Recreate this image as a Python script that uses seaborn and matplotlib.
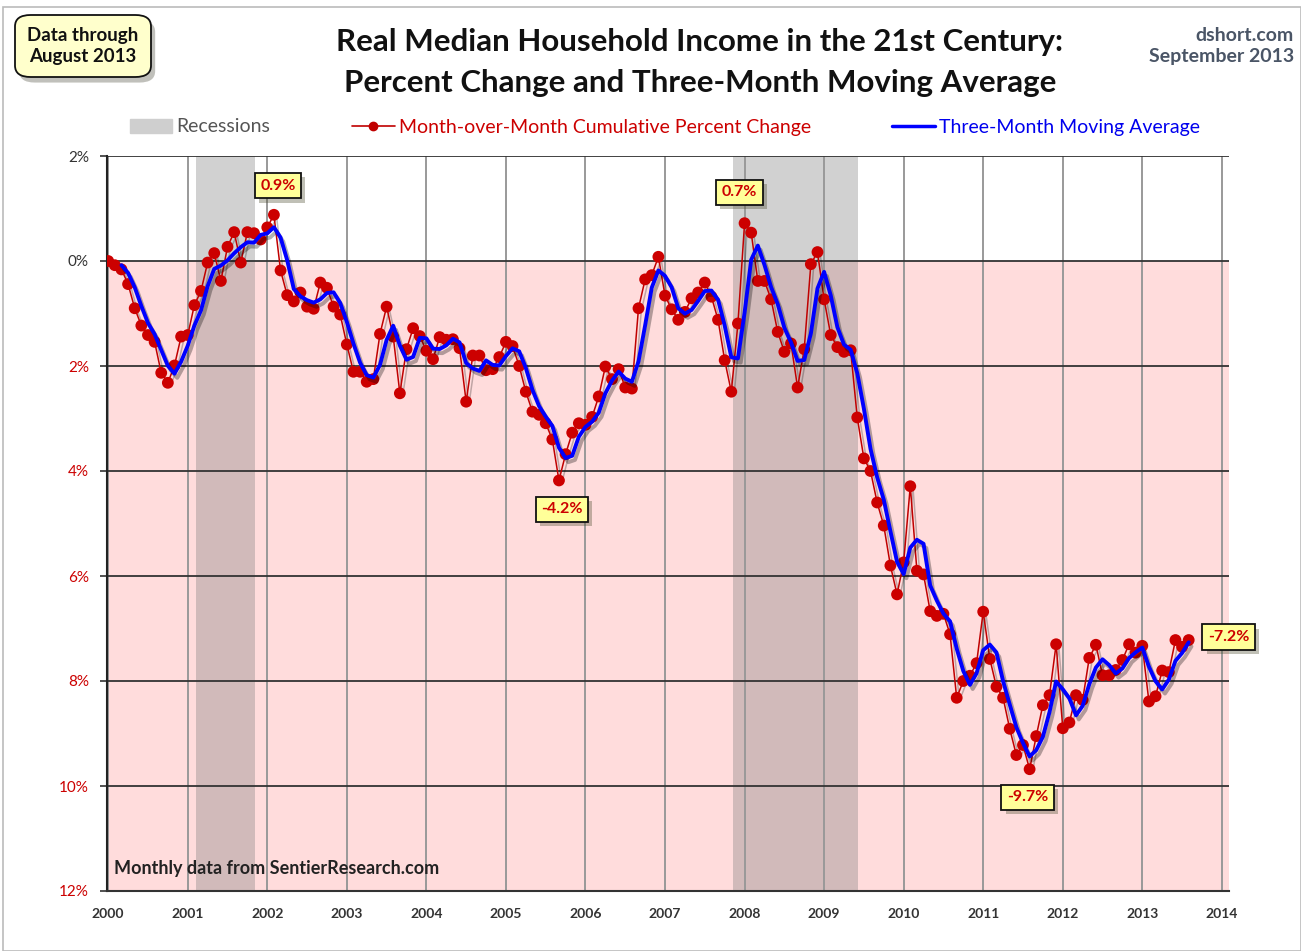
import numpy as np
import pandas as pd
import matplotlib
matplotlib.use("Agg")
import matplotlib.pyplot as plt
import matplotlib.patheffects as pe
from matplotlib.lines import Line2D
from matplotlib.patches import Patch, FancyBboxPatch, Rectangle
import seaborn as sns

# monthly cumulative percent change, Jan 2000 .. Aug 2013
pct_2000 = [0.00, -0.08, -0.16, -0.44, -0.90, -1.23, -1.41, -1.54, -2.13, -2.32, -1.99, -1.44]
pct_2001 = [-1.41, -0.84, -0.57, -0.03, 0.15, -0.38, 0.27, 0.55, -0.03, 0.55, 0.53, 0.41]
pct_2002 = [0.64, 0.88, -0.18, -0.65, -0.77, -0.60, -0.87, -0.91, -0.41, -0.51, -0.87, -1.02]
pct_2003 = [-1.59, -2.11, -2.11, -2.30, -2.25, -1.39, -0.87, -1.44, -2.52, -1.68, -1.28, -1.43]
pct_2004 = [-1.71, -1.87, -1.45, -1.50, -1.49, -1.66, -2.68, -1.80, -1.80, -2.08, -2.06, -1.83]
pct_2005 = [-1.54, -1.62, -2.00, -2.49, -2.87, -2.93, -3.09, -3.40, -4.18, -3.68, -3.27, -3.09]
pct_2006 = [-3.12, -2.97, -2.58, -2.01, -2.25, -2.06, -2.41, -2.43, -0.90, -0.35, -0.27, 0.08]
pct_2007 = [-0.66, -0.92, -1.12, -0.97, -0.71, -0.60, -0.41, -0.68, -1.12, -1.89, -2.49, -1.19]
pct_2008 = [0.72, 0.54, -0.38, -0.38, -0.73, -1.35, -1.73, -1.57, -2.41, -1.68, -0.06, 0.17]
pct_2009 = [-0.73, -1.41, -1.64, -1.73, -1.70, -2.98, -3.76, -4.00, -4.60, -5.04, -5.80, -6.35]
pct_2010 = [-5.74, -4.29, -5.90, -5.97, -6.67, -6.76, -6.72, -7.11, -8.32, -8.00, -7.90, -7.66]
pct_2011 = [-6.68, -7.58, -8.11, -8.32, -8.91, -9.41, -9.22, -9.68, -9.05, -8.46, -8.27, -7.30]
pct_2012 = [-8.90, -8.79, -8.27, -8.36, -7.56, -7.31, -7.89, -7.89, -7.79, -7.60, -7.30, -7.46]
pct_2013 = [-7.33, -8.39, -8.29, -7.80, -7.83, -7.22, -7.35, -7.22]

recessions = [(2001.11, 2001.84), (2007.86, 2009.42)]
year_ticks = list(range(2000, 2015))
pct_ticks = [2, 0, -2, -4, -6, -8, -10, -12]

callouts = [("0.9%", "2002-02", (4, 29)),
            ("0.7%", "2008-01", (-5, 31)),
            ("-4.2%", "2005-09", (3, -29)),
            ("-9.7%", "2011-08", (-2, -28)),
            ("-7.2%", "2013-08", (40, 3))]

values = (pct_2000 + pct_2001 + pct_2002 + pct_2003 + pct_2004 + pct_2005 + pct_2006
          + pct_2007 + pct_2008 + pct_2009 + pct_2010 + pct_2011 + pct_2012 + pct_2013)
months = pd.period_range("2000-01", periods=len(values), freq="M")
df = pd.DataFrame({"month": months.astype(str), "pct": values})
df["year"] = 2000 + np.arange(len(df)) / 12.0
df["ma3"] = df["pct"].rolling(3).mean()

sns.set_style("white")
plt.rcParams["font.family"] = ["Lato", "DejaVu Sans"]

fig = plt.figure(figsize=(13.01, 9.51), dpi=100)
ax = fig.add_axes([107 / 1301, 1 - 891 / 951, (1229 - 107) / 1301, (891 - 156) / 951])

ax.set_xlim(1999.985, 2014.09)
ax.set_ylim(-12, 2)
ax.axhspan(-12, 0, color="#FFDCDC", zorder=0, lw=0)
for a, b in recessions:
    ax.axvspan(a, b, color="#7a7a7a", alpha=0.34, lw=0, zorder=1)

for yv in year_ticks:
    ax.axvline(yv, color="#999999", lw=1.4, zorder=1.5)
for p in pct_ticks:
    ax.axhline(p, color="#333333", lw=1.3, zorder=1.6)

shadow = [pe.SimpleLineShadow(offset=(2, -2), shadow_color="#000000", alpha=0.25), pe.Normal()]
sns.lineplot(data=df, x="year", y="pct", ax=ax, color="#C00000", lw=1.1,
             marker="o", markersize=8.5, markeredgewidth=0, markerfacecolor="#CC0000",
             zorder=3, path_effects=shadow)
sns.lineplot(data=df.dropna(), x="year", y="ma3", ax=ax, color="#0000FF", lw=2.8,
             zorder=4, path_effects=[pe.SimpleLineShadow(offset=(2, -3), alpha=0.3), pe.Normal()])

ax.set_xticks(year_ticks)
ax.set_xticklabels([str(y) for y in year_ticks], fontsize=10, color="#333333",
                   fontweight="bold")
ax.set_yticks(pct_ticks)
ax.set_yticklabels([f"{abs(p)}%" for p in pct_ticks], fontsize=11)
for t, p in zip(ax.get_yticklabels(), pct_ticks):
    t.set_color("#CC0000" if p < 0 else "#333333")
ax.tick_params(axis="y", length=5, width=1.2, color="#333333", pad=8, left=True)
ax.tick_params(axis="x", length=0, pad=12)
ax.set_xlabel("")
ax.set_ylabel("")
for s in ["top", "right"]:
    ax.spines[s].set_visible(False)
ax.spines["left"].set_color("#222222")
ax.spines["left"].set_linewidth(1.5)
ax.spines["bottom"].set_color("#333333")
ax.spines["bottom"].set_linewidth(1.5)

box = dict(boxstyle="square,pad=0.35", fc="#FFFF99", ec="#111111", lw=1.3)
for label, month, off in callouts:
    row = df[df["month"] == month].iloc[0]
    t = ax.annotate(label, xy=(row["year"], row["pct"]), xytext=off,
                    textcoords="offset pixels", ha="center", va="center",
                    fontsize=11.5, fontweight="bold", color="#CC0000", bbox=box, zorder=6)
    t.get_bbox_patch().set_path_effects([pe.SimplePatchShadow(offset=(3, -3), alpha=0.35),
                                         pe.Normal()])

ax.text(0.006, 0.030, "Monthly data from SentierResearch.com",
        transform=ax.transAxes, fontsize=13, fontweight="bold", color="#222222",
        ha="left", va="center", zorder=6)

fig.text(0.538, 1 - 42 / 951, "Real Median Household Income in the 21st Century:",
         ha="center", va="center", fontsize=22.5, fontweight="bold", color="#111111")
fig.text(0.538, 1 - 83 / 951, "Percent Change and Three-Month Moving Average",
         ha="center", va="center", fontsize=22.5, fontweight="bold", color="#111111")

fig.text(1294 / 1301, 1 - 46 / 951, "dshort.com\nSeptember 2013", ha="right", va="center",
         fontsize=14, fontweight="bold", color="#4a5566", linespacing=1.25)

dbox = FancyBboxPatch((15 / 1301, 1 - 77 / 951), 136 / 1301, 62 / 951,
                      boxstyle="round,pad=0,rounding_size=0.012", transform=fig.transFigure,
                      fc="#FFFFCC", ec="#111111", lw=1.3,
                      path_effects=[pe.SimplePatchShadow(offset=(3, -4), alpha=0.35), pe.Normal()])
fig.add_artist(dbox)
fig.text(83 / 1301, 1 - 46 / 951, "Data through\nAugust 2013", ha="center", va="center",
         fontsize=13.5, fontweight="bold", color="#111111", linespacing=1.25)

fig.add_artist(Rectangle((3 / 1301, 0), 1 - 3 / 1301, 1 - 7 / 951, transform=fig.transFigure,
                         fill=False, ec="#BBBBBB", lw=1.2))

handles = [Patch(color="#CFCFCF"),
           Line2D([], [], color="#C00000", lw=1.2, marker="o", markersize=6),
           Line2D([], [], color="#0000FF", lw=2.5)]
labels = ["Recessions", "Month-over-Month Cumulative Percent Change", "Three-Month Moving Average"]
leg = fig.legend(handles, labels, loc="center", bbox_to_anchor=(0.511, 1 - 127 / 951), ncol=3,
                 frameon=False, fontsize=14, columnspacing=4.2, handlelength=2.2,
                 handletextpad=0.2)
for txt, c in zip(leg.get_texts(), ["#555555", "#CC0000", "#0000EE"]):
    txt.set_color(c)

fig.savefig("out.png", dpi=100)
